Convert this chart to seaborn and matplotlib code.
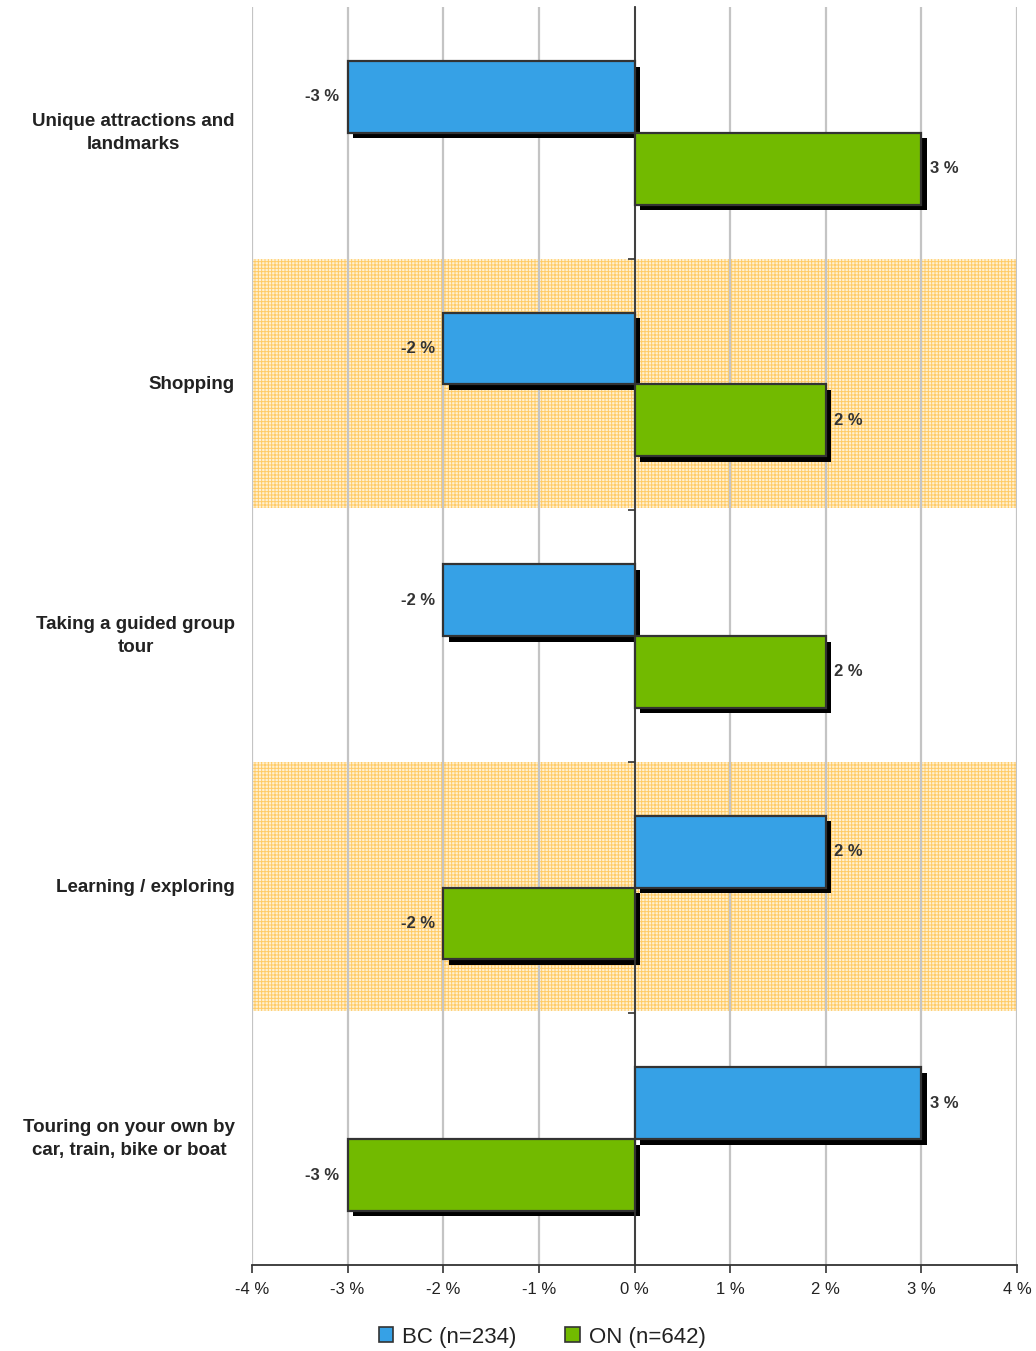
import matplotlib
matplotlib.use("Agg")
import matplotlib.pyplot as plt
import matplotlib.patheffects as pe
from matplotlib.patches import Patch
import matplotlib.transforms as mtransforms
import pandas as pd
import seaborn as sns

categories = [
    "Unique attractions and\nlandmarks",
    "Shopping",
    "Taking a guided group\ntour",
    "Learning / exploring",
    "Touring on your own by\ncar, train, bike or boat",
]
series_names = ["BC (n=234)", "ON (n=642)"]
bc_values = [-3, -2, -2, 2, 3]
on_values = [3, 2, 2, -2, -3]
x_ticks = [-4, -3, -2, -1, 0, 1, 2, 3, 4]
x_tick_labels = ["-4 %", "-3 %", "-2 %", "-1 %", "0 %", "1 %", "2 %", "3 %", "4 %"]
banded_rows = [1, 3]

colors = {"BC (n=234)": "#36A1E6", "ON (n=642)": "#72BA00"}

df = pd.DataFrame({
    "category": categories * 2,
    "region": [series_names[0]] * len(categories) + [series_names[1]] * len(categories),
    "value": bc_values + on_values,
})

sns.set_style("white")
plt.rcParams["font.family"] = ["Liberation Sans", "DejaVu Sans"]

fig = plt.figure(figsize=(10.36, 13.51), dpi=100)
ax = fig.add_axes([252 / 1036, 1 - 1265 / 1351, (1017 - 252) / 1036, (1265 - 7) / 1351])

sns.barplot(
    data=df, x="value", y="category", hue="region", orient="h",
    palette=colors, width=0.57, saturation=1, edgecolor="#333333",
    linewidth=1.6, legend=False, ax=ax, zorder=3,
)

# drop shadow on each bar
for bar in ax.patches:
    bar.set_path_effects([
        pe.SimplePatchShadow(offset=(4, -4), shadow_rgbFace="black", alpha=1.0),
        pe.Normal(),
    ])

# value labels
for cont, vals in zip(ax.containers, [bc_values, on_values]):
    ax.bar_label(cont, labels=[f"{v} %" for v in vals], padding=6,
                 fontsize=12, fontweight="bold", color="#333333")

# hatched background bands
plt.rcParams["hatch.linewidth"] = 0.7
for r in banded_rows:
    ax.axhspan(r - 0.5, r + 0.49, facecolor="#FFF1D2", edgecolor="#FFCB66",
               hatch="+++++", linewidth=0, zorder=0)

ax.set_xlim(-4, 4)
ax.set_ylim(4.5, -0.5)
ax.set_xticks(x_ticks)
ax.set_xticklabels(x_tick_labels, fontsize=12, color="#222222")
ax.xaxis.grid(True, color="#C4C4C4", linewidth=1.6, zorder=1)
ax.yaxis.grid(False)
ax.set_axisbelow(True)

# zero line acts as the y axis, with ticks at row boundaries
ax.spines["left"].set_position(("data", 0))
ax.spines["left"].set_color("#333333")
ax.spines["left"].set_linewidth(1.3)
ax.spines["left"].set_zorder(4)
ax.spines["top"].set_visible(False)
ax.spines["right"].set_visible(False)
ax.spines["bottom"].set_color("#333333")
ax.spines["bottom"].set_linewidth(1.3)
ax.set_yticks([0.5, 1.5, 2.5, 3.5])
ax.set_yticklabels([])
ax.tick_params(axis="y", direction="out", length=5, width=1.2, color="#333333", left=True)
ax.tick_params(axis="x", direction="out", length=6, width=1.2, color="#333333", bottom=True, pad=6)
ax.set_xlabel("")
ax.set_ylabel("")

# category labels left of the plot area
trans = mtransforms.blended_transform_factory(fig.transFigure, ax.transData)
for i, name in enumerate(categories):
    ax.text(235 / 1036, i, name, transform=trans, ha="right", va="center",
            multialignment="center", fontsize=13.5, fontweight="bold",
            color="#222222", linespacing=1.45)

handles = [Patch(facecolor=colors[n], edgecolor="#333333", linewidth=1.2, label=n)
           for n in series_names]
fig.legend(handles=handles, loc="center", bbox_to_anchor=(542 / 1036, 1 - 1337 / 1351),
           ncol=2, frameon=False, fontsize=16, handlelength=0.65, handleheight=0.65,
           handletextpad=0.4, columnspacing=2.2, labelcolor="#222222")

fig.savefig("out.png", dpi=100)
